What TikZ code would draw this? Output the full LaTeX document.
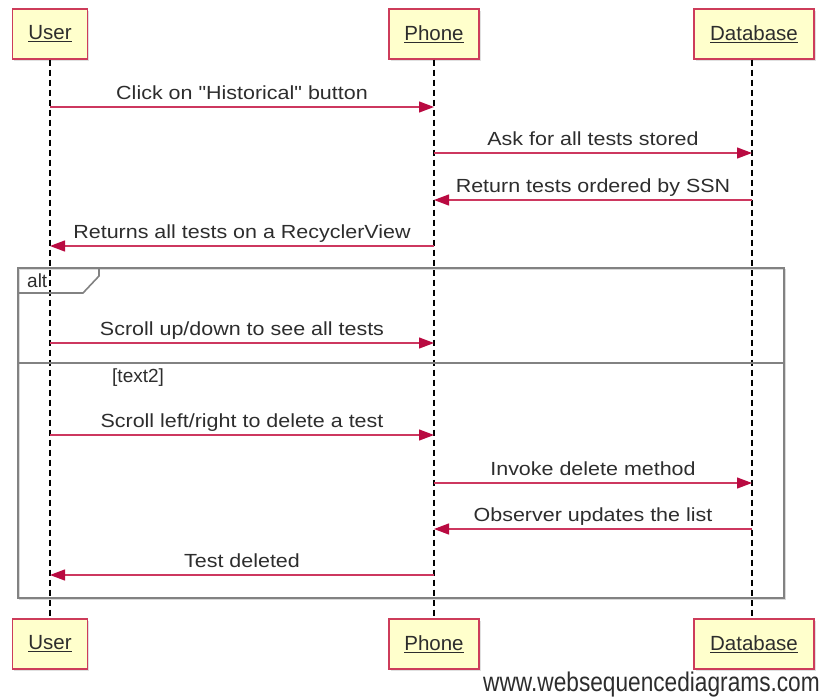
\documentclass[tikz,border=0pt]{standalone}
\usepackage{fontspec}
\setmainfont{Liberation Sans}[Ligatures=TeXOff]
\usepackage{graphicx}
\usetikzlibrary{arrows.meta}

\definecolor{msgtip}{RGB}{185,10,65}
\definecolor{msgline}{RGB}{205,55,95}
\definecolor{actfill}{RGB}{255,255,204}
\definecolor{actdraw}{RGB}{205,60,90}
\definecolor{framegray}{RGB}{130,130,130}
\definecolor{txt}{RGB}{45,45,45}

\newcommand{\msgfont}{\fontsize{19}{22}\selectfont}
\newcommand{\widetext}[1]{\scalebox{1.13}[1]{#1}}

\begin{document}
\begin{tikzpicture}[x=1pt,y=-1pt,
  actor/.style={draw=actdraw, line width=1.4pt, fill=actfill, minimum height=50pt,
    inner sep=0pt, text=txt, font=\fontsize{20.5}{23}\selectfont},
  actorshadow/.style={fill=black!12, draw=none},
  lifeline/.style={line width=1.3pt, dash pattern=on 6pt off 4pt},
  message/.style={draw=msgline, line width=1.3pt,
    -{Triangle[length=15pt,width=11pt,fill=msgtip,color=msgtip]}},
  msglabel/.style={font=\msgfont, text=txt, anchor=base, inner sep=0pt, yshift=8pt},
  framebox/.style={draw=framegray, line width=1.6pt},
  frameshadow/.style={draw=black!15, line width=1.6pt}
]
\useasboundingbox (0,0) rectangle (823,697);

% participants, top and bottom
\foreach \yy in {34, 644}{
  \fill[actorshadow] (14,\yy-23) rectangle (89,\yy+27);
  \fill[actorshadow] (391,\yy-23) rectangle (481,\yy+27);
  \fill[actorshadow] (696,\yy-23) rectangle (816,\yy+27);
}
\node[actor, minimum width=75pt]  (userT) at (50,34)   {\raisebox{-2pt}{\underline{User}}};
\node[actor, minimum width=90pt]  (phoneT) at (434,34) {\raisebox{-2pt}{\underline{Phone}}};
\node[actor, minimum width=120pt] (dbT) at (754,34)    {\raisebox{-2pt}{\underline{Database}}};
\node[actor, minimum width=75pt]  (userB) at (50,644)  {\raisebox{-2pt}{\underline{User}}};
\node[actor, minimum width=90pt]  (phoneB) at (434,644){\raisebox{-2pt}{\underline{Phone}}};
\node[actor, minimum width=120pt] (dbB) at (754,644)   {\raisebox{-2pt}{\underline{Database}}};

% lifelines
\draw[lifeline] (userT.south) -- (userB.north);
\draw[lifeline] (phoneT.south) -- (phoneB.north);
\draw[lifeline] ([xshift=-2pt]dbT.south) -- ([xshift=-2pt]dbB.north);

% alt fragment
\draw[frameshadow] (19.5,269.5) rectangle (785.5,599.5);
\draw[framebox] (18,268) rectangle (784,598);
\draw[framebox] (18,293) -- (83,293) -- (99,276) -- (99,268);
\draw[framebox, line width=1.2pt] (18,363) -- (784,363);
\node[font=\msgfont, text=txt, anchor=base west, inner sep=0pt] (altlbl) at (27,287) {alt};
\node[font=\msgfont, text=txt, anchor=base west, inner sep=0pt] (guard) at (112,382) {[text2]};

% messages
\draw[message] (userT |- 0,107) -- (phoneT |- 0,107)
  node[msglabel, midway] (m1) {\widetext{Click on "Historical" button}};
\draw[message] (phoneT |- 0,153) -- ([xshift=-2pt]dbT.south |- 0,153)
  node[msglabel, midway] (m2) {\widetext{Ask for all tests stored}};
\draw[message] ([xshift=-2pt]dbT.south |- 0,200) -- (phoneT |- 0,200)
  node[msglabel, midway] (m3) {\widetext{Return tests ordered by SSN}};
\draw[message] (phoneT |- 0,246) -- (userT |- 0,246)
  node[msglabel, midway] (m4) {\widetext{Returns all tests on a RecyclerView}};
\draw[message] (userT |- 0,343) -- (phoneT |- 0,343)
  node[msglabel, midway] (m5) {\widetext{Scroll up/down to see all tests}};
\draw[message] (userT |- 0,435) -- (phoneT |- 0,435)
  node[msglabel, midway] (m6) {\widetext{Scroll left/right to delete a test}};
\draw[message] (phoneT |- 0,483) -- ([xshift=-2pt]dbT.south |- 0,483)
  node[msglabel, midway] (m7) {\widetext{Invoke delete method}};
\draw[message] ([xshift=-2pt]dbT.south |- 0,529) -- (phoneT |- 0,529)
  node[msglabel, midway] (m8) {\widetext{Observer updates the list}};
\draw[message] (phoneT |- 0,575) -- (userT |- 0,575)
  node[msglabel, midway] (m9) {\widetext{Test deleted}};

% footer
\node[anchor=base east, inner sep=0pt, text=txt, font=\fontsize{27}{29}\selectfont]
  (credit) at (820,691) {\scalebox{0.84}[1]{www.websequencediagrams.com}};
\end{tikzpicture}
\end{document}
